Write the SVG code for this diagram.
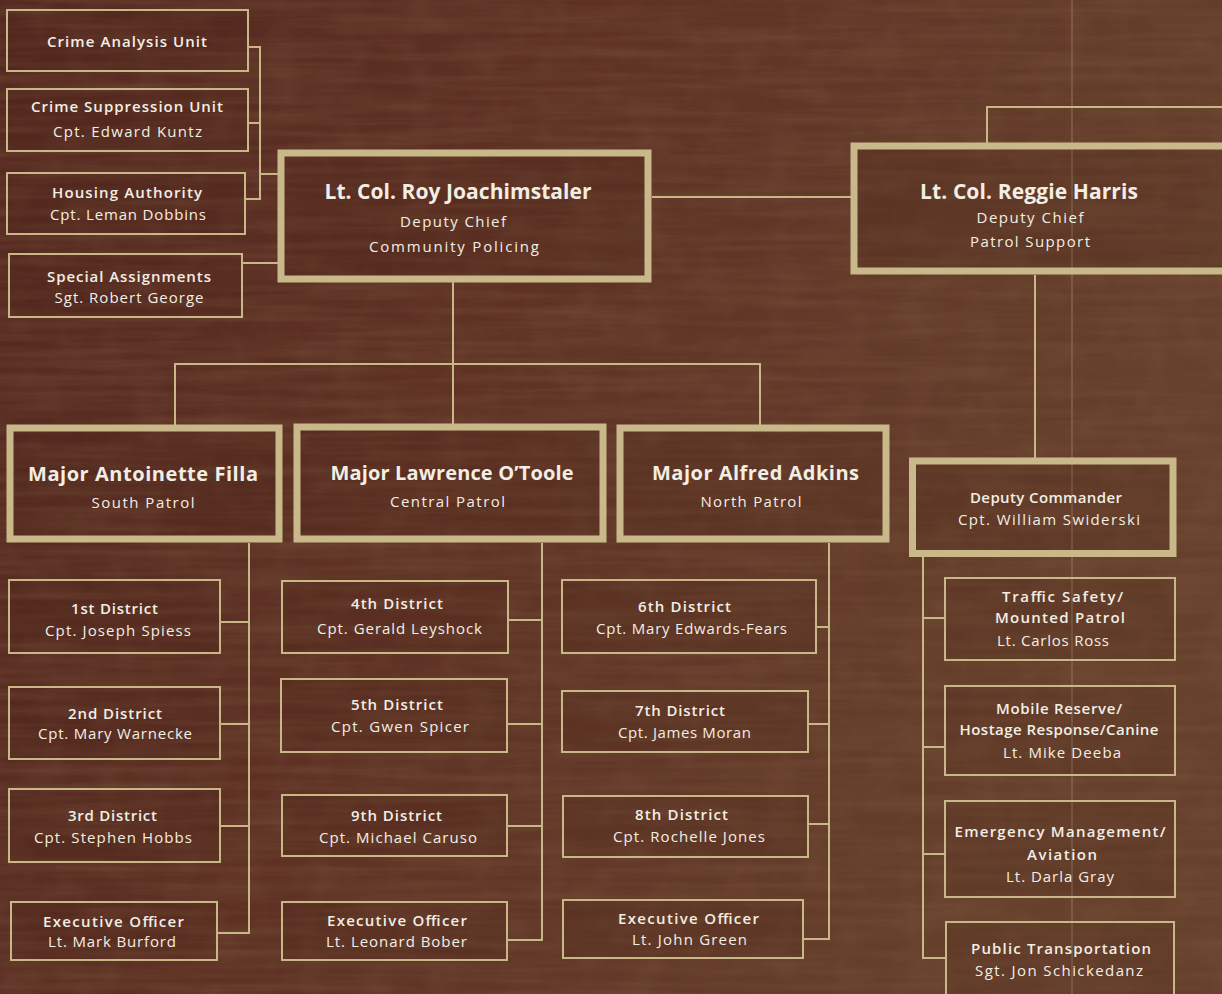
<svg xmlns="http://www.w3.org/2000/svg" width="1222" height="994" viewBox="0 0 1222 994">
<style>
.bg{fill:url(#bgGrad)}
.thin{fill:rgba(45,18,10,0.1);stroke:#c8b888;stroke-width:2}
.thick{fill:rgba(45,18,10,0.1);stroke:#c9b98a;stroke-width:7}
.conn line,.conn polyline{stroke:#c8b888;stroke-width:2;fill:none}
text{font-family:"Open Sans","Liberation Sans",sans-serif;fill:#f3eee4;text-anchor:middle}
.t{font-size:15px;font-weight:600}
.n{font-size:15px;font-weight:400}
.h{font-size:21px;font-weight:700}
.m{font-size:20px;font-weight:700}
</style>
<defs>
<linearGradient id="bgGrad" x1="0" y1="0" x2="1" y2="0.3">
<stop offset="0" stop-color="#552820"/>
<stop offset="0.45" stop-color="#5e3124"/>
<stop offset="1" stop-color="#66402c"/>
</linearGradient>
<filter id="grain" x="0" y="0" width="100%" height="100%">
<feTurbulence type="fractalNoise" baseFrequency="0.006 0.12" numOctaves="4" seed="7" result="n"/>
<feColorMatrix in="n" type="matrix" values="0 0 0 0 0.18  0 0 0 0 0.08  0 0 0 0 0.04  0 0 0 1.4 -0.45"/>
</filter>
<filter id="mottle" x="0" y="0" width="100%" height="100%">
<feTurbulence type="fractalNoise" baseFrequency="0.03" numOctaves="3" seed="2" result="n"/>
<feColorMatrix in="n" type="matrix" values="0 0 0 0 0.45  0 0 0 0 0.28  0 0 0 0 0.18  0 0 0 1.2 -0.5"/>
</filter>
</defs>
<g id="background">
<rect class="bg" x="0" y="0" width="1222" height="994"/>
<rect x="0" y="0" width="1222" height="994" filter="url(#mottle)" opacity="0.15"/>
<rect x="0" y="0" width="1222" height="994" filter="url(#grain)" opacity="0.6"/>
<line x1="1072" y1="0" x2="1072" y2="994" stroke="#b59c80" stroke-width="1" opacity="0.55"/>
</g>

<g id="connectors" class="conn">
<polyline points="248,47 260,47 260,199 245,199"/>
<line x1="248" y1="123" x2="260" y2="123"/>
<line x1="260" y1="174" x2="278" y2="174"/>
<line x1="242" y1="263" x2="278" y2="263"/>
<line x1="652" y1="197" x2="851" y2="197"/>
<polyline points="987,143 987,107 1222,107"/>
<line x1="1035" y1="275" x2="1035" y2="458"/>
<line x1="453" y1="282" x2="453" y2="424"/>
<polyline points="175,425 175,364 760,364 760,425"/>
<polyline points="249,543 249,933 217,933"/>
<line x1="220" y1="622" x2="249" y2="622"/>
<line x1="220" y1="724" x2="249" y2="724"/>
<line x1="220" y1="826" x2="249" y2="826"/>
<polyline points="542,543 542,940 507,940"/>
<line x1="508" y1="620" x2="542" y2="620"/>
<line x1="507" y1="724" x2="542" y2="724"/>
<line x1="507" y1="826" x2="542" y2="826"/>
<polyline points="829,543 829,939 803,939"/>
<line x1="816" y1="627" x2="829" y2="627"/>
<line x1="808" y1="724" x2="829" y2="724"/>
<line x1="808" y1="824" x2="829" y2="824"/>
<polyline points="923,557 923,958 946,958"/>
<line x1="923" y1="618" x2="945" y2="618"/>
<line x1="923" y1="747" x2="945" y2="747"/>
<line x1="923" y1="854" x2="945" y2="854"/>
</g>

<g id="crime-analysis">
<rect class="thin" x="7" y="10" width="241" height="61"/>
<text class="t" x="127" y="47" textLength="160" lengthAdjust="spacing">Crime Analysis Unit</text>
</g>
<g id="crime-suppression">
<rect class="thin" x="7" y="89" width="241" height="62"/>
<text class="t" x="127" y="112" textLength="192" lengthAdjust="spacing">Crime Suppression Unit</text>
<text class="n" x="127.5" y="137" textLength="149" lengthAdjust="spacing">Cpt. Edward Kuntz</text>
</g>
<g id="housing-authority">
<rect class="thin" x="7" y="173" width="238" height="61"/>
<text class="t" x="127" y="198" textLength="150" lengthAdjust="spacing">Housing Authority</text>
<text class="n" x="128" y="220" textLength="156" lengthAdjust="spacing">Cpt. Leman Dobbins</text>
</g>
<g id="special-assignments">
<rect class="thin" x="9" y="254" width="233" height="63"/>
<text class="t" x="129" y="282" textLength="164" lengthAdjust="spacing">Special Assignments</text>
<text class="n" x="129" y="303" textLength="149" lengthAdjust="spacing">Sgt. Robert George</text>
</g>

<g id="roy-joachimstaler">
<rect class="thick" x="281" y="153" width="367" height="126"/>
<text class="h" x="458" y="199" textLength="267" lengthAdjust="spacing">Lt. Col. Roy Joachimstaler</text>
<text class="n" x="453" y="227" textLength="106" lengthAdjust="spacing">Deputy Chief</text>
<text class="n" x="454" y="252" textLength="170" lengthAdjust="spacing">Community Policing</text>
</g>

<g id="reggie-harris">
<rect class="thick" x="854" y="146" width="390" height="125"/>
<text class="h" x="1029" y="199" textLength="218" lengthAdjust="spacing">Lt. Col. Reggie Harris</text>
<text class="n" x="1030" y="223" textLength="107" lengthAdjust="spacing">Deputy Chief</text>
<text class="n" x="1030" y="247" textLength="120" lengthAdjust="spacing">Patrol Support</text>
</g>

<g id="antoinette-filla">
<rect class="thick" x="10" y="428" width="269" height="111"/>
<text class="m" x="143" y="481" textLength="230" lengthAdjust="spacing">Major Antoinette Filla</text>
<text class="n" x="143" y="508" textLength="103" lengthAdjust="spacing">South Patrol</text>
</g>
<g id="lawrence-otoole">
<rect class="thick" x="297" y="427" width="306" height="112"/>
<text class="m" x="452" y="480" textLength="243" lengthAdjust="spacing">Major Lawrence O’Toole</text>
<text class="n" x="447.5" y="507" textLength="115" lengthAdjust="spacing">Central Patrol</text>
</g>
<g id="alfred-adkins">
<rect class="thick" x="620" y="428" width="266" height="111"/>
<text class="m" x="755.5" y="480" textLength="207" lengthAdjust="spacing">Major Alfred Adkins</text>
<text class="n" x="751" y="507" textLength="101" lengthAdjust="spacing">North Patrol</text>
</g>
<g id="deputy-commander">
<rect class="thick" x="912.5" y="461" width="260.5" height="92.5"/>
<text class="t" x="1046" y="503" textLength="152" lengthAdjust="spacing">Deputy Commander</text>
<text class="n" x="1049" y="525" textLength="182" lengthAdjust="spacing">Cpt. William Swiderski</text>
</g>

<g id="district-1">
<rect class="thin" x="9" y="580" width="211" height="73"/>
<text class="t" x="114.5" y="614" textLength="87" lengthAdjust="spacing">1st District</text>
<text class="n" x="118" y="636" textLength="146" lengthAdjust="spacing">Cpt. Joseph Spiess</text>
</g>
<g id="district-2">
<rect class="thin" x="9" y="687" width="211" height="72"/>
<text class="t" x="115" y="719" textLength="94" lengthAdjust="spacing">2nd District</text>
<text class="n" x="115" y="739" textLength="154" lengthAdjust="spacing">Cpt. Mary Warnecke</text>
</g>
<g id="district-3">
<rect class="thin" x="9" y="789" width="211" height="73"/>
<text class="t" x="112.5" y="821" textLength="89" lengthAdjust="spacing">3rd District</text>
<text class="n" x="113" y="843" textLength="158" lengthAdjust="spacing">Cpt. Stephen Hobbs</text>
</g>
<g id="exec-south">
<rect class="thin" x="11" y="902" width="206" height="58"/>
<text class="t" x="113.5" y="927" textLength="141" lengthAdjust="spacing">Executive Officer</text>
<text class="n" x="112" y="947" textLength="128" lengthAdjust="spacing">Lt. Mark Burford</text>
</g>

<g id="district-4">
<rect class="thin" x="282" y="581" width="226" height="72"/>
<text class="t" x="397" y="609" textLength="92" lengthAdjust="spacing">4th District</text>
<text class="n" x="399.5" y="634" textLength="165" lengthAdjust="spacing">Cpt. Gerald Leyshock</text>
</g>
<g id="district-5">
<rect class="thin" x="281" y="679" width="226" height="73"/>
<text class="t" x="397" y="710" textLength="92" lengthAdjust="spacing">5th District</text>
<text class="n" x="400" y="732" textLength="138" lengthAdjust="spacing">Cpt. Gwen Spicer</text>
</g>
<g id="district-9">
<rect class="thin" x="282" y="795" width="225" height="61"/>
<text class="t" x="396.5" y="821" textLength="91" lengthAdjust="spacing">9th District</text>
<text class="n" x="398" y="843" textLength="158" lengthAdjust="spacing">Cpt. Michael Caruso</text>
</g>
<g id="exec-central">
<rect class="thin" x="282" y="902" width="225" height="58"/>
<text class="t" x="397" y="926" textLength="140" lengthAdjust="spacing">Executive Officer</text>
<text class="n" x="396.5" y="947" textLength="141" lengthAdjust="spacing">Lt. Leonard Bober</text>
</g>

<g id="district-6">
<rect class="thin" x="562" y="580" width="254" height="73"/>
<text class="t" x="684.5" y="612" textLength="93" lengthAdjust="spacing">6th District</text>
<text class="n" x="691.5" y="634" textLength="191" lengthAdjust="spacing">Cpt. Mary Edwards-Fears</text>
</g>
<g id="district-7">
<rect class="thin" x="562" y="691" width="246" height="61"/>
<text class="t" x="680" y="716" textLength="90" lengthAdjust="spacing">7th District</text>
<text class="n" x="684.5" y="738" textLength="133" lengthAdjust="spacing">Cpt. James Moran</text>
</g>
<g id="district-8">
<rect class="thin" x="563" y="796" width="245" height="61"/>
<text class="t" x="681.5" y="820" textLength="93" lengthAdjust="spacing">8th District</text>
<text class="n" x="689" y="842" textLength="152" lengthAdjust="spacing">Cpt. Rochelle Jones</text>
</g>
<g id="exec-north">
<rect class="thin" x="563" y="900" width="240" height="58"/>
<text class="t" x="688.5" y="924" textLength="141" lengthAdjust="spacing">Executive Officer</text>
<text class="n" x="689.5" y="945" textLength="115" lengthAdjust="spacing">Lt. John Green</text>
</g>

<g id="traffic-safety">
<rect class="thin" x="945" y="578" width="230" height="82"/>
<text class="t" x="1062.5" y="602" textLength="121" lengthAdjust="spacing">Traffic Safety/</text>
<text class="t" x="1060" y="623" textLength="130" lengthAdjust="spacing">Mounted Patrol</text>
<text class="n" x="1053" y="646" textLength="112" lengthAdjust="spacing">Lt. Carlos Ross</text>
</g>
<g id="mobile-reserve">
<rect class="thin" x="945" y="686" width="230" height="89"/>
<text class="t" x="1059" y="714" textLength="126" lengthAdjust="spacing">Mobile Reserve/</text>
<text class="t" x="1059" y="735" textLength="199" lengthAdjust="spacing">Hostage Response/Canine</text>
<text class="n" x="1062" y="758" textLength="118" lengthAdjust="spacing">Lt. Mike Deeba</text>
</g>
<g id="emergency-management">
<rect class="thin" x="945" y="801" width="230" height="96"/>
<text class="t" x="1060" y="837" textLength="211" lengthAdjust="spacing">Emergency Management/</text>
<text class="t" x="1062" y="860" textLength="70" lengthAdjust="spacing">Aviation</text>
<text class="n" x="1060" y="882" textLength="108" lengthAdjust="spacing">Lt. Darla Gray</text>
</g>
<g id="public-transportation">
<rect class="thin" x="946" y="922" width="228" height="90"/>
<text class="t" x="1061" y="954" textLength="180" lengthAdjust="spacing">Public Transportation</text>
<text class="n" x="1059" y="976" textLength="168" lengthAdjust="spacing">Sgt. Jon Schickedanz</text>
</g>
</svg>
